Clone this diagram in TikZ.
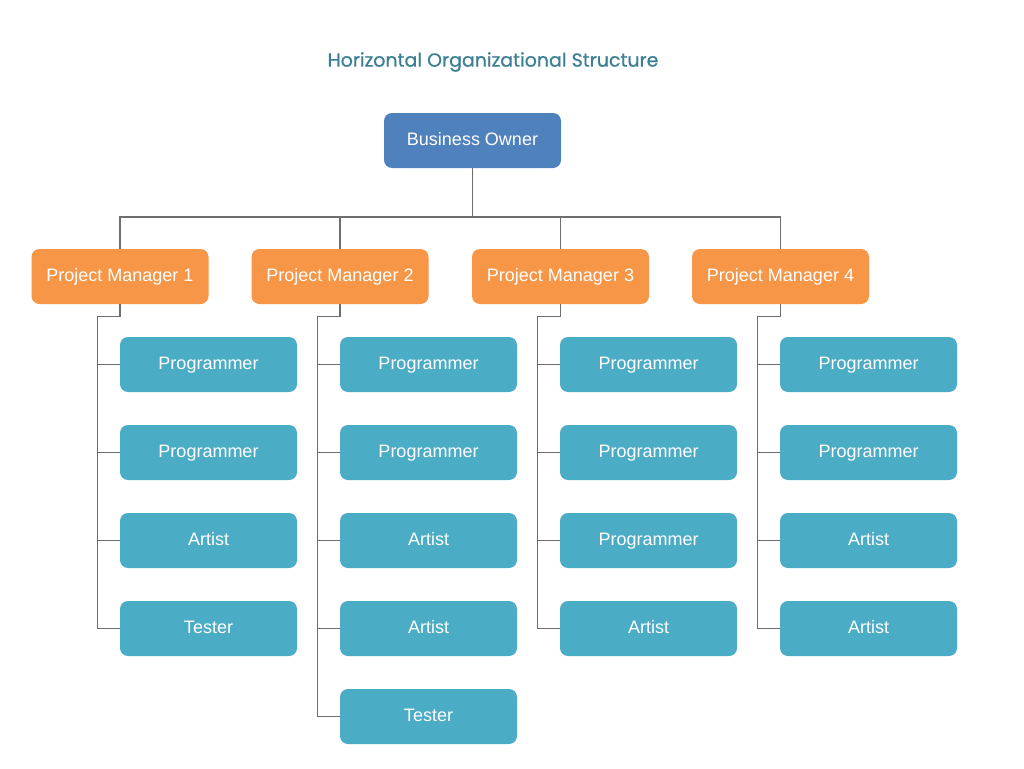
\documentclass[tikz,border=0pt]{standalone}
\usepackage{fontspec}
\setmainfont{Liberation Sans}
\newfontfamily\titlefont[FakeBold=0.6]{Poppins}
\definecolor{ownerblue}{HTML}{4F81BD}
\definecolor{pmorange}{HTML}{F79646}
\definecolor{staffblue}{HTML}{4BACC6}
\definecolor{titleteal}{HTML}{3A7F94}
\definecolor{linegray}{HTML}{6E6E6E}
\begin{document}
\begin{tikzpicture}[x=1pt,y=-1pt,
  box/.style={rounded corners=8pt, minimum width=177pt, minimum height=55pt, inner sep=0pt,
    text height=13pt, text depth=3.5pt,
    text=white, font=\fontsize{18}{21}\selectfont},
  owner/.style={box, fill=ownerblue},
  pm/.style={box, fill=pmorange},
  staff/.style={box, fill=staffblue},
  conn/.style={draw=linegray, line width=1.1pt}]
\useasboundingbox (0,0) rectangle (1024,768);
\fill[white] (0,0) rectangle (1024,768);

\node[text=titleteal, font=\titlefont\fontsize{19}{22}\selectfont] (title) at (493,62) {Horizontal Organizational Structure};

\node[owner] (bo) at (472.5,140.5) {Business Owner};

\node[pm] (pm1) at (120,276.5) {Project Manager 1};
\node[pm] (pm2) at (340,276.5) {Project Manager 2};
\node[pm] (pm3) at (560.5,276.5) {Project Manager 3};
\node[pm] (pm4) at (780.5,276.5) {Project Manager 4};

% column 1
\node[staff] (c11) at (208.5,364.5) {Programmer};
\node[staff] (c12) at (208.5,452.5) {Programmer};
\node[staff] (c13) at (208.5,540.5) {Artist};
\node[staff] (c14) at (208.5,628.5) {Tester};
% column 2
\node[staff] (c21) at (428.5,364.5) {Programmer};
\node[staff] (c22) at (428.5,452.5) {Programmer};
\node[staff] (c23) at (428.5,540.5) {Artist};
\node[staff] (c24) at (428.5,628.5) {Artist};
\node[staff] (c25) at (428.5,716.5) {Tester};
% column 3
\node[staff] (c31) at (648.5,364.5) {Programmer};
\node[staff] (c32) at (648.5,452.5) {Programmer};
\node[staff] (c33) at (648.5,540.5) {Programmer};
\node[staff] (c34) at (648.5,628.5) {Artist};
% column 4
\node[staff] (c41) at (868.5,364.5) {Programmer};
\node[staff] (c42) at (868.5,452.5) {Programmer};
\node[staff] (c43) at (868.5,540.5) {Artist};
\node[staff] (c44) at (868.5,628.5) {Artist};

% top bus
\coordinate (bus) at (472.5,217);
\draw[conn] (bo.south) -- (bus);
\draw[conn] (pm1.north) |- (pm4.north |- bus) -- (pm4.north);
\draw[conn] (pm2.north) -- (pm2.north |- bus);
\draw[conn] (pm3.north) -- (pm3.north |- bus);

% spines
\coordinate (s1) at ([xshift=-22pt]c14.west);
\coordinate (s2) at ([xshift=-22pt]c25.west);
\coordinate (s3) at ([xshift=-22pt]c34.west);
\coordinate (s4) at ([xshift=-22pt]c44.west);
\draw[conn] (pm1.south) -- ++(0,12) -| (s1) -- (c14.west);
\draw[conn] (pm2.south) -- ++(0,12) -| (s2) -- (c25.west);
\draw[conn] (pm3.south) -- ++(0,12) -| (s3) -- (c34.west);
\draw[conn] (pm4.south) -- ++(0,12) -| (s4) -- (c44.west);

\foreach \c in {c11,c12,c13,c21,c22,c23,c24,c31,c32,c33,c41,c42,c43}
  \draw[conn] (\c.west) -- ++(-22,0);
\end{tikzpicture}
\end{document}
